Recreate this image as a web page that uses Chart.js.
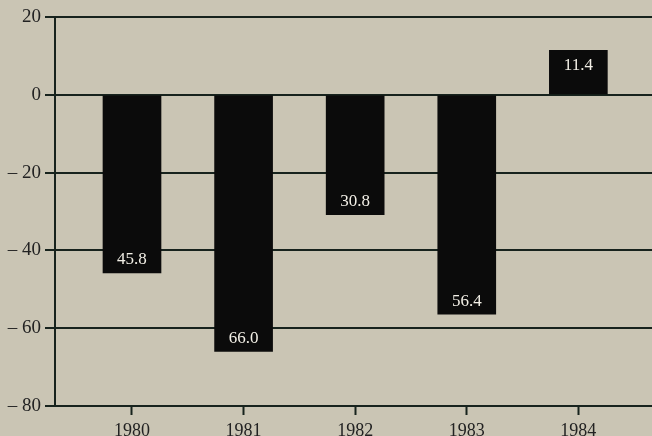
<!DOCTYPE html>
<html>
<head>
<meta charset="utf-8">
<script src="https://cdn.jsdelivr.net/npm/chart.js@4/dist/chart.umd.min.js"></script>
<style>
  html, body { margin: 0; padding: 0; background: #cac5b4; }
  #wrap { width: 652px; height: 436px; }
</style>
</head>
<body>
<div id="wrap"><canvas id="grafico"></canvas></div>
<script>
// datos
var anios = [1980, 1981, 1982, 1983, 1984];
var valores = [-45.8, -66.0, -30.8, -56.4, 11.4];
var ticksY = [20, 0, -20, -40, -60, -80];

var colorLinea = '#17231d';
var colorBarra = '#0b0b0b';
var fuente = '"Liberation Serif", "DejaVu Serif", serif';

// etiquetas blancas dentro de las barras
var etiquetasBarras = {
  id: 'etiquetasBarras',
  afterDatasetsDraw: function (chart) {
    var ctx = chart.ctx;
    var meta = chart.getDatasetMeta(0);
    ctx.save();
    ctx.fillStyle = '#f2efe6';
    ctx.font = '17px ' + fuente;
    ctx.textAlign = 'center';
    ctx.textBaseline = 'middle';
    meta.data.forEach(function (barra, i) {
      var v = valores[i];
      var y = v < 0 ? barra.y - 13 : barra.y + 15;
      ctx.fillText(Math.abs(v).toFixed(1), barra.x, y);
    });
    ctx.restore();
  }
};

var ctx = document.getElementById('grafico').getContext('2d');
var grafico = new Chart(ctx, {
  type: 'bar',
  data: {
    datasets: [{
      data: anios.map(function (a, i) { return { x: a, y: valores[i] }; }),
      backgroundColor: colorBarra,
      barThickness: 58
    }]
  },
  options: {
    responsive: true,
    maintainAspectRatio: false,
    animation: false,
    layout: { padding: { top: 17, right: 0, left: 0, bottom: 0 } },
    plugins: { legend: { display: false }, tooltip: { enabled: false } },
    scales: {
      x: {
        type: 'linear',
        offset: false,
        min: 1979.31,
        max: 1984.66,
        afterFit: function (s) { s.height = 30; },
        afterBuildTicks: function (s) {
          s.ticks = anios.map(function (a) { return { value: a }; });
        },
        ticks: {
          callback: function (v) { return String(v); },
          color: '#222',
          font: { family: fuente, size: 18 },
          padding: 5,
          maxRotation: 0
        },
        grid: {
          offset: false,
          drawOnChartArea: false,
          drawTicks: true,
          tickLength: 9,
          tickWidth: 2,
          tickColor: colorLinea
        },
        border: { display: true, color: colorLinea, width: 2 }
      },
      y: {
        min: -80,
        max: 20,
        afterFit: function (s) { s.width = 55; },
        afterBuildTicks: function (s) {
          s.ticks = ticksY.map(function (t) { return { value: t }; });
        },
        ticks: {
          callback: function (v) { return v < 0 ? '\u2013 ' + Math.abs(v) : String(v); },
          color: '#222',
          font: { family: fuente, size: 19 },
          padding: 4
        },
        grid: {
          color: colorLinea,
          lineWidth: 2,
          drawTicks: true,
          tickLength: 10
        },
        border: { display: true, color: colorLinea, width: 2 }
      }
    }
  },
  plugins: [etiquetasBarras]
});
</script>
</body>
</html>
